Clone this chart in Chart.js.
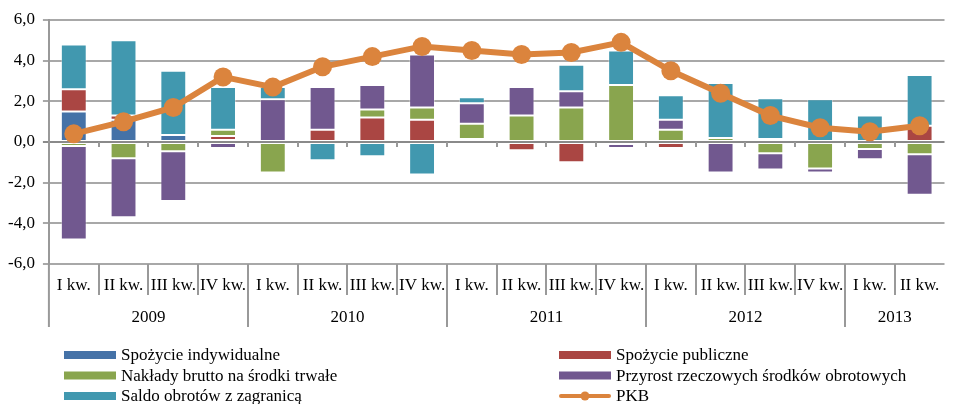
<!DOCTYPE html>
<html>
<head>
<meta charset="utf-8">
<script src="https://cdn.jsdelivr.net/npm/chart.js@4"></script>
<style>
  html, body { margin: 0; background: #fff; }
  #wrap { width: 954px; height: 404px; position: relative; }
</style>
</head>
<body>
<div id="wrap"><canvas id="chart"></canvas></div>
<script>
    const quarters = ["I kw.", "II kw.", "III kw.", "IV kw.", "I kw.", "II kw.", "III kw.", "IV kw.", "I kw.", "II kw.", "III kw.", "IV kw.", "I kw.", "II kw.", "III kw.", "IV kw.", "I kw.", "II kw."];
    const years = ["2009", "2010", "2011", "2012", "2013"];
    const yearSpans = [4, 4, 4, 4, 2];

    const spozycieIndywidualne = [1.5, 1.1, 0.35, 0.1, 0, 0, 0, 0, 0, 0, 0, 0, 0, 0, 0, 0, 0, 0];
    const spozyciePubliczne = [1.1, 0.2, 0, 0.2, 0, 0.6, 1.2, 1.1, 0.15, -0.4, -1.0, -0.1, -0.3, 0, 0.15, 0, 0, 0.8];
    const naklady = [-0.2, -0.8, -0.45, 0.3, -1.5, 0, 0.4, 0.6, 0.75, 1.3, 1.7, 2.8, 0.6, 0.2, -0.55, -1.3, -0.35, -0.6];
    const przyrost = [-4.6, -2.9, -2.45, -0.3, 2.1, 2.1, 1.2, 2.6, 1.0, 1.4, 0.8, -0.2, 0.5, -1.5, -0.8, -0.2, -0.5, -2.0];
    const saldo = [2.2, 3.7, 3.15, 2.1, 0.6, -0.9, -0.7, -1.6, 0.3, 0, 1.3, 1.7, 1.2, 2.7, 2.0, 2.1, 1.3, 2.5];
    const pkb = [0.4, 1.0, 1.7, 3.2, 2.7, 3.7, 4.2, 4.7, 4.5, 4.3, 4.4, 4.9, 3.5, 2.4, 1.3, 0.7, 0.5, 0.8];

    const FONT = '17px "Liberation Serif", "Times New Roman", serif';

    const bar = (label, data, color) => ({
      type: "bar", label, data, backgroundColor: color,
      borderColor: "rgba(255,255,255,0.35)", borderWidth: c => c.raw ? 1 : 0, borderSkipped: false,
      stack: "s", order: 1, categoryPercentage: 1, barPercentage: 0.52
    });

    // quarter/year labels under the plot + legend in two columns
    const axisAndLegend = {
      id: "axisAndLegend",
      afterDraw(chart) {
        const { ctx, chartArea: ca, scales: { x, y } } = chart;
        const half = (x.getPixelForValue(1) - x.getPixelForValue(0)) / 2;
        const y0 = Math.round(y.getPixelForValue(0));
        ctx.save();
        ctx.strokeStyle = "#999";
        ctx.lineWidth = 2;
        // small ticks on the zero line + separators below the plot
        let bounds = [], acc = 0;
        yearSpans.forEach(n => { acc += n; bounds.push(acc); });
        for (let i = 1; i < quarters.length; i++) {
          const px = Math.round(x.getPixelForValue(i) - half);
          ctx.beginPath(); ctx.moveTo(px, y0); ctx.lineTo(px, y0 + 5); ctx.stroke();
          ctx.beginPath(); ctx.moveTo(px, ca.bottom);
          ctx.lineTo(px, ca.bottom + (bounds.includes(i) ? 63 : 31)); ctx.stroke();
        }
        ctx.beginPath(); ctx.moveTo(ca.left, ca.bottom); ctx.lineTo(ca.left, ca.bottom + 63); ctx.stroke();

        ctx.fillStyle = "#000";
        ctx.font = FONT;
        ctx.textAlign = "center";
        ctx.textBaseline = "middle";
        quarters.forEach((q, i) => ctx.fillText(q, x.getPixelForValue(i), ca.bottom + 22));
        let start = 0;
        years.forEach((yr, k) => {
          const end = start + yearSpans[k] - 1;
          ctx.fillText(yr, (x.getPixelForValue(start) + x.getPixelForValue(end)) / 2, ca.bottom + 54);
          start = end + 1;
        });

        // legend
        const ds = chart.data.datasets;
        const colX = [64, 559], rowY = [355, 375.5, 396];
        ctx.textAlign = "left";
        ds.forEach((d, k) => {
          const lx = colX[k % 2], ly = rowY[Math.floor(k / 2)];
          if (d.type === "line") {
            ctx.strokeStyle = d.borderColor; ctx.lineWidth = 4; ctx.lineCap = "round";
            ctx.beginPath(); ctx.moveTo(lx + 2, ly); ctx.lineTo(lx + 50, ly); ctx.stroke();
            ctx.fillStyle = d.borderColor;
            ctx.beginPath(); ctx.arc(lx + 26, ly, 4.5, 0, Math.PI * 2); ctx.fill();
          } else {
            ctx.fillStyle = d.backgroundColor;
            ctx.fillRect(lx, ly - 4, 52, 8);
          }
          ctx.fillStyle = "#000";
          ctx.fillText(d.label, lx + 57, ly + 1);
        });
        ctx.restore();
      }
    };

    new Chart(document.getElementById("chart"), {
      data: {
        labels: quarters,
        datasets: [
          bar("Spożycie indywidualne", spozycieIndywidualne, "#4572A7"),
          bar("Spożycie publiczne", spozyciePubliczne, "#AA4643"),
          bar("Nakłady brutto na środki trwałe", naklady, "#89A54E"),
          bar("Przyrost rzeczowych środków obrotowych", przyrost, "#71588F"),
          bar("Saldo obrotów z zagranicą", saldo, "#4198AF"),
          {
            type: "line", label: "PKB", data: pkb, stack: "pkb", order: 0,
            borderColor: "#DB843D", backgroundColor: "#DB843D", borderWidth: 6,
            pointRadius: 9.5, pointBorderWidth: 0, pointBackgroundColor: "#DB843D"
          }
        ]
      },
      options: {
        responsive: true,
        maintainAspectRatio: false,
        animation: false,
        events: [],
        layout: { padding: { left: 0, top: 20, right: 0, bottom: 140 } },
        plugins: { legend: { display: false }, tooltip: { enabled: false } },
        scales: {
          x: { display: false, stacked: true, offset: true },
          y: {
            stacked: true, min: -6, max: 6,
            ticks: {
              stepSize: 2, padding: 8, color: "#000",
              font: { family: '"Liberation Serif", "Times New Roman", serif', size: 17 },
              callback: v => v.toFixed(1).replace(".", ",")
            },
            grid: {
              color: c => c.tick && c.tick.value === 0 ? "#8a8a8a" : "#a8a8a8",
              lineWidth: 2, tickLength: 6
            },
            border: { color: "#999", width: 2 }
          }
        }
      },
      plugins: [axisAndLegend]
    });
</script>
</body>
</html>
